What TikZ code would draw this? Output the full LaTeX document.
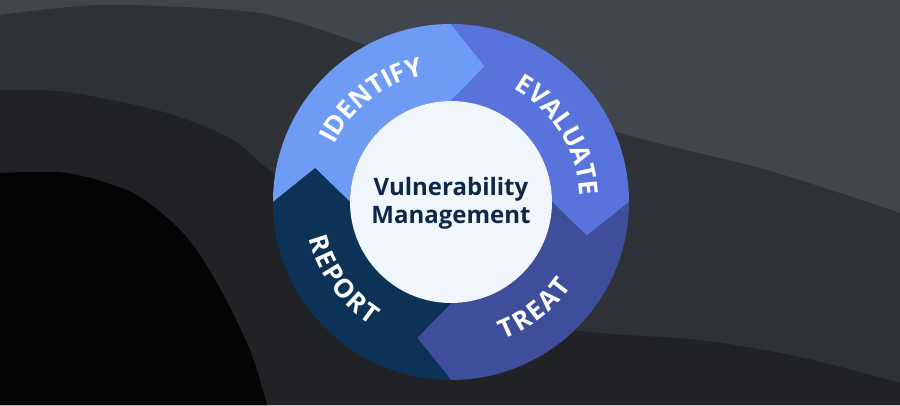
\documentclass[tikz,border=0pt]{standalone}
\usepackage{fontspec}
\setmainfont{Open Sans}
\usetikzlibrary{decorations.text}
\definecolor{bgTop}{HTML}{41464E}
\definecolor{bgMid}{HTML}{2E3137}
\definecolor{bgLow}{HTML}{212226}
\definecolor{bgDeep}{HTML}{040404}
\definecolor{identifyBlue}{HTML}{6E9BF4}
\definecolor{evaluateBlue}{HTML}{5874DC}
\definecolor{treatBlue}{HTML}{3E4E9B}
\definecolor{reportBlue}{HTML}{0C3257}
\definecolor{hubWhite}{HTML}{F0F6FC}
\definecolor{hubText}{HTML}{0F2846}
\newcommand*{\ringfont}{\color{white}\bfseries\fontsize{26}{26}\selectfont}

\begin{document}
\begin{tikzpicture}[x=1pt, y=1pt,
    ringlabel/.style={decorate, decoration={text along path, text align=fit to path, text={|\ringfont|#1}}}]
    \useasboundingbox (0,0) rectangle (900,405);
    \clip (0,0) rectangle (900,405);

    % background waves
    \fill[bgTop] (0,0) rectangle (900,405);
    \fill[bgMid] plot[smooth] coordinates {(0,390) (100,400) (233,395) (300,382) (450,330) (620,272) (767,235) (900,192)} -- (900,0) -- (0,0) -- cycle;
    \fill[bgLow] plot[smooth] coordinates {(0,315) (67,313) (167,292) (233,265) (273,232) (400,140) (520,85) (600,72) (700,65) (800,48) (900,22)} -- (900,0) -- (0,0) -- cycle;
    \fill[bgDeep] plot[smooth] coordinates {(0,232) (67,232) (133,212) (183,172) (217,122) (250,55) (267,0)} -- (0,0) -- cycle;

    \coordinate (hub) at (451,203);
    \begin{scope}[shift={(hub)}]
        % four chevron segments, clockwise
        \foreach \s/\col in {180/identifyBlue, 90/evaluateBlue, 0/treatBlue, -90/reportBlue} {
            \pgfmathsetmacro{\e}{\s-90}
            \fill[\col] (\s:178) arc[start angle=\s, end angle=\e, radius=178]
                -- ({\e-14}:140) -- (\e:101) arc[start angle=\e, end angle=\s, radius=101]
                -- ({\s-14}:140) -- cycle;
        }
        \fill[hubWhite] (0,0) circle[radius=101];

        \path[ringlabel=IDENTIFY] (154:130) arc[start angle=154, end angle=103.5, radius=130];
        \path[ringlabel=EVALUATE] (61:129) arc[start angle=61, end angle=5, radius=129];
        \path[ringlabel=TREAT] (-69:147) arc[start angle=-69, end angle=-35, radius=147];
        \path[ringlabel=REPORT] (194.5:147) arc[start angle=194.5, end angle=237, radius=147];
    \end{scope}

    \node[align=center, text=hubText, font=\bfseries\fontsize{24}{28}\selectfont] (title) at ([yshift=-1]hub) {Vulnerability\\Management};
\end{tikzpicture}
\end{document}
